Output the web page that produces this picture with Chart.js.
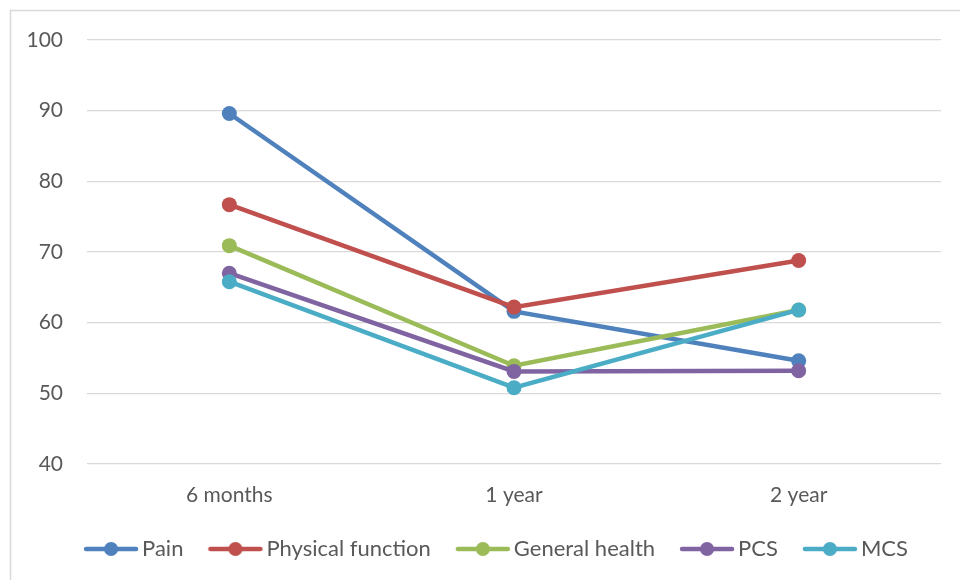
<!DOCTYPE html>
<html>
<head>
<meta charset="utf-8">
<script src="https://cdn.jsdelivr.net/npm/chart.js@4/dist/chart.umd.min.js"></script>
<style>
html,body{margin:0;padding:0;background:#fff;}
#wrap{width:960px;height:580px;position:relative;}
</style>
</head>
<body>
<div id="wrap"><canvas id="c" width="960" height="580"></canvas></div>
<script>
const categories = ['6 months', '1 year', '2 year'];
const seriesNames = ['Pain', 'Physical function', 'General health', 'PCS', 'MCS'];
const pain = [89.6, 61.6, 54.6];
const physicalFunction = [76.7, 62.2, 68.8];
const generalHealth = [70.9, 53.9, 61.8];
const pcs = [67.0, 53.1, 53.2];
const mcs = [65.8, 50.8, 61.8];
const seriesColors = ['#4F81BD', '#C0504D', '#9BBB59', '#8064A2', '#4BACC6'];
const yTicks = [40, 50, 60, 70, 80, 90, 100];

const seriesValues = [pain, physicalFunction, generalHealth, pcs, mcs];
const FONT = 'Lato, "Open Sans", sans-serif';

function legendIcon(color) {
  const cv = document.createElement('canvas');
  cv.width = 56; cv.height = 16;
  const g = cv.getContext('2d');
  g.strokeStyle = color; g.lineWidth = 4.5; g.lineCap = 'round';
  g.beginPath(); g.moveTo(3, 8); g.lineTo(53, 8); g.stroke();
  g.fillStyle = color;
  g.beginPath(); g.arc(28, 8, 7, 0, Math.PI * 2); g.fill();
  return cv;
}
const icons = seriesColors.map(legendIcon);

const borderPlugin = {
  id: 'outerBorder',
  beforeDraw(chart) {
    const ctx = chart.ctx;
    ctx.save();
    ctx.fillStyle = '#fff';
    ctx.fillRect(0, 0, chart.width, chart.height);
    ctx.strokeStyle = '#d9d9d9';
    ctx.lineWidth = 1.5;
    ctx.strokeRect(10.5, 10.5, 1000, 1000);
    ctx.restore();
  }
};

const legendShift = {
  id: 'legendShift',
  afterLayout(chart) {
    if (chart.legend) { chart.legend.left += 29; chart.legend.right += 29; }
  }
};

new Chart(document.getElementById('c'), {
  type: 'line',
  data: {
    labels: categories,
    datasets: seriesNames.map((name, i) => ({
      label: name,
      data: seriesValues[i],
      borderColor: seriesColors[i],
      backgroundColor: seriesColors[i],
      pointBackgroundColor: seriesColors[i],
      pointBorderColor: seriesColors[i],
      borderWidth: 4.5,
      pointRadius: 7.5,
      pointHoverRadius: 7.5,
      pointBorderWidth: 0,
      tension: 0,
      fill: false,
      order: seriesNames.length - i
    }))
  },
  options: {
    responsive: false,
    animation: false,
    layout: { padding: { top: 40, left: 0, right: 19, bottom: 10 } },
    plugins: {
      tooltip: { enabled: false },
      legend: {
        position: 'bottom',
        labels: {
          usePointStyle: true,
          pointStyleWidth: 40,
          padding: 32,
          color: '#595959',
          font: { family: FONT, size: 22 },
          sort: (a, b) => a.datasetIndex - b.datasetIndex,
          generateLabels(chart) {
            const items = Chart.defaults.plugins.legend.labels.generateLabels(chart);
            items.forEach(it => { it.pointStyle = icons[it.datasetIndex]; });
            return items;
          }
        }
      }
    },
    scales: {
      x: {
        offset: true,
        grid: { display: false, drawTicks: false },
        border: { display: false },
        ticks: { color: '#595959', font: { family: FONT, size: 21 }, padding: 19 },
        afterFit(s) { s.height = 42; }
      },
      y: {
        min: 40, max: 100,
        afterBuildTicks(s) { s.ticks = yTicks.map(v => ({ value: v })); },
        grid: { color: '#d9d9d9', lineWidth: 1.2, drawTicks: false },
        border: { display: false },
        ticks: { color: '#595959', font: { family: FONT, size: 21 }, padding: 24 },
        afterFit(s) { s.width = 87; }
      }
    }
  },
  plugins: [borderPlugin, legendShift]
});
</script>
</body>
</html>
